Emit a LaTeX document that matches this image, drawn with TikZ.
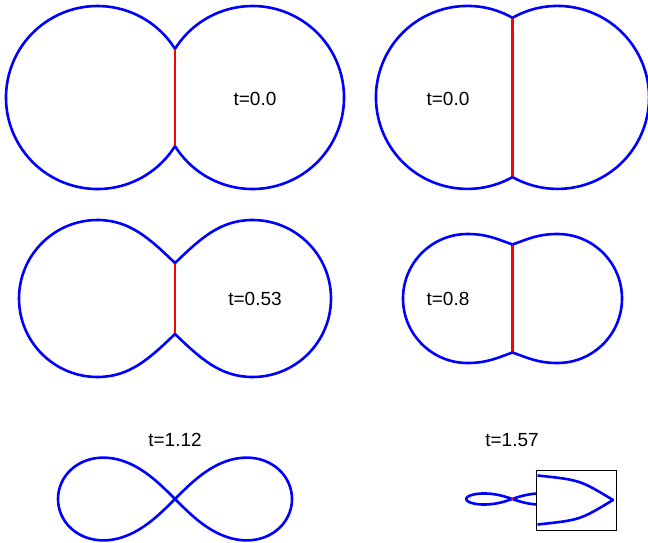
\documentclass[tikz,border=0pt]{standalone}
\usepackage{fontspec}
\setmainfont{Liberation Sans}
\begin{document}
\begin{tikzpicture}[x=1pt, y=1pt,
    curveB/.style={draw=blue, line width=2.6pt, line join=round},
    seamR/.style={draw=red, line width=2.6pt},
    labelT/.style={font=\fontsize{19}{22}\selectfont, text=black, inner sep=0pt},
    insetBox/.style={draw=black, line width=1.5pt}]

    \useasboundingbox (0,0) rectangle (648,542);
    \clip (0,0) rectangle (648,542);

    % Panel t=0.0 (left)
    \coordinate (A1) at (175,493.1);
    \coordinate (A2) at (175,395.9);
    \draw[seamR] (A1) -- (A2);
    \draw[curveB] (A1) arc[start angle=32.1, end angle=327.9, radius=91.5];
    \draw[curveB] (A1) arc[start angle=147.9, end angle=-147.9, radius=91.5];
    \node[labelT] (T1) at (255,442.7) {t=0.0};

    % Panel t=0.0 (right)
    \coordinate (B1) at (512.5,524.2);
    \coordinate (B2) at (512.5,364.8);
    \draw[seamR] (B1) -- (B2);
    \draw[curveB] (B1) arc[start angle=60.5, end angle=299.5, radius=91.5];
    \draw[curveB] (B1) arc[start angle=119.5, end angle=-119.5, radius=91.5];
    \node[labelT] (T2) at (448,442.7) {t=0.0};

    % Panel t=0.53
    \coordinate (C1) at (175,279);
    \coordinate (C2) at (175,208);
    \draw[seamR] (C1) -- (C2);
    \draw[curveB] (C1) .. controls (150,303) and (130,322) .. (97.5,322)
        arc[start angle=90, end angle=270, radius=78.5] .. controls (130,165) and (150,184) .. (C2);
    \draw[curveB] (C1) .. controls (200,303) and (220,322) .. (252.5,322)
        arc[start angle=90, end angle=-90, radius=78.5] .. controls (220,165) and (200,184) .. (C2);
    \node[labelT] (T3) at (255,243) {t=0.53};

    % Panel t=0.8
    \coordinate (D1) at (512.5,297.5);
    \coordinate (D2) at (512.5,189.5);
    \draw[seamR] (D1) -- (D2);
    \draw[curveB] (D1) .. controls (497,303) and (487,308) .. (467.5,308)
        arc[start angle=90, end angle=270, radius=64.5] .. controls (487,179) and (497,184) .. (D2);
    \draw[curveB] (D1) .. controls (528,303) and (538,308) .. (557.5,308)
        arc[start angle=90, end angle=-90, radius=64.5] .. controls (538,179) and (528,184) .. (D2);
    \node[labelT] (T4) at (448,243) {t=0.8};

    % Panel t=1.12
    \draw[curveB] plot[domain=0:360, samples=181, smooth]
        ({175+117*cos(\x)/(1+sin(\x)*sin(\x))}, {43+117*sin(\x)*cos(\x)/(1+sin(\x)*sin(\x))}) -- cycle;
    \node[labelT] (T5) at (175,101.7) {t=1.12};

    % Panel t=1.57, with inset
    \begin{scope}
        \clip (440,0) rectangle (536.7,90);
        \draw[curveB] plot[domain=0:360, samples=181, smooth]
            ({512.3+46*cos(\x)/(1+sin(\x)*sin(\x))}, {43+15.6*sin(\x)*cos(\x)/(1+sin(\x)*sin(\x))}) -- cycle;
    \end{scope}
    \draw[seamR] (512.3,42.4) -- (512.3,43.6);
    \draw[insetBox] (536.7,11.3) rectangle (616.7,71.3);
    \draw[curveB] (537.5,66.5) .. controls (580,62) .. (613,42) .. controls (580,22) .. (537.5,17.5);
    \node[labelT] (T6) at (512,101.7) {t=1.57};

\end{tikzpicture}
\end{document}
